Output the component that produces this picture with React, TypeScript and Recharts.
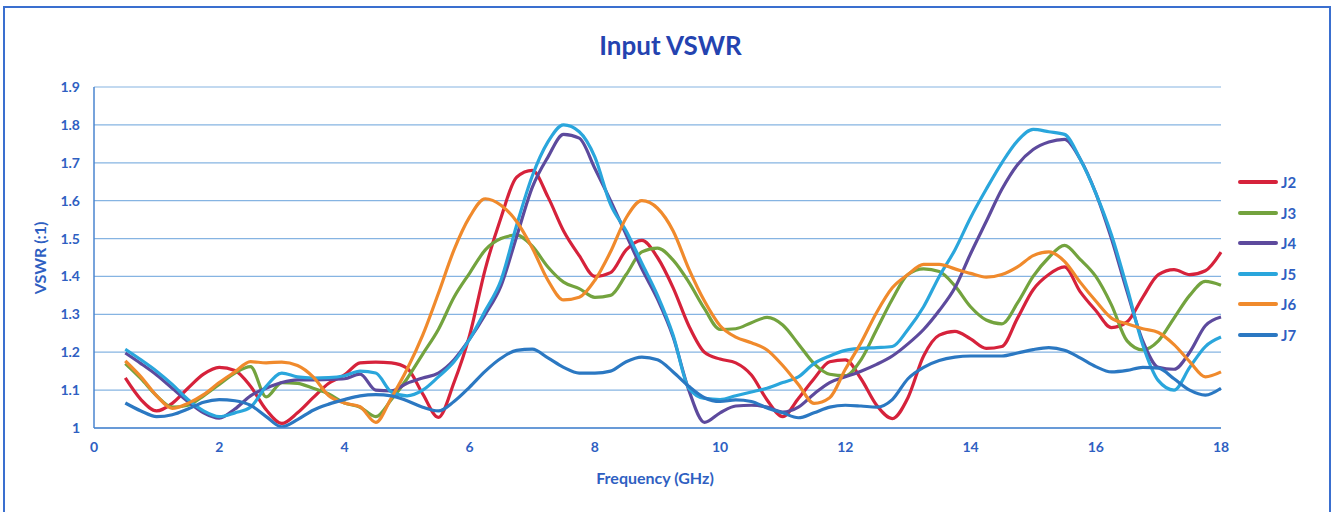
import React from "react";
import { LineChart, Line, XAxis, YAxis, CartesianGrid } from "recharts";

const freq = [0.5,0.75,1,1.25,1.5,1.75,2,2.25,2.5,2.75,3,3.25,3.5,3.75,4,4.25,4.5,4.75,5,5.25,5.5,5.75,6,6.25,6.5,6.75,7,7.25,7.5,7.75,8,8.25,8.5,8.75,9,9.25,9.5,9.75,10,10.25,10.5,10.75,11,11.25,11.5,11.75,12,12.25,12.5,12.75,13,13.25,13.5,13.75,14,14.25,14.5,14.75,15,15.25,15.5,15.75,16,16.25,16.5,16.75,17,17.25,17.5,17.75,18];

const j2 = [1.132,1.075,1.045,1.065,1.105,1.142,1.16,1.152,1.11,1.048,1.012,1.04,1.08,1.118,1.14,1.172,1.174,1.172,1.158,1.09,1.028,1.12,1.245,1.42,1.555,1.662,1.68,1.61,1.52,1.455,1.4,1.41,1.47,1.495,1.45,1.37,1.27,1.2,1.182,1.172,1.14,1.074,1.03,1.078,1.13,1.175,1.18,1.13,1.06,1.025,1.08,1.19,1.245,1.255,1.235,1.21,1.215,1.29,1.365,1.405,1.425,1.36,1.31,1.265,1.28,1.345,1.405,1.418,1.405,1.415,1.464];
const j3 = [1.17,1.13,1.085,1.055,1.06,1.085,1.115,1.145,1.162,1.082,1.12,1.118,1.105,1.09,1.066,1.055,1.03,1.075,1.13,1.195,1.26,1.345,1.409,1.47,1.5,1.509,1.48,1.425,1.385,1.368,1.345,1.35,1.405,1.465,1.475,1.443,1.385,1.315,1.26,1.262,1.278,1.292,1.272,1.222,1.17,1.142,1.138,1.18,1.26,1.34,1.405,1.42,1.413,1.375,1.32,1.285,1.275,1.33,1.4,1.45,1.482,1.445,1.4,1.325,1.23,1.206,1.23,1.29,1.35,1.387,1.377];
const j4 = [1.198,1.17,1.14,1.105,1.07,1.04,1.026,1.05,1.085,1.105,1.12,1.127,1.127,1.128,1.13,1.142,1.1,1.098,1.118,1.132,1.145,1.18,1.235,1.3,1.375,1.505,1.635,1.715,1.775,1.765,1.685,1.6,1.51,1.42,1.34,1.24,1.1,1.015,1.04,1.058,1.06,1.055,1.042,1.055,1.09,1.12,1.135,1.15,1.168,1.19,1.222,1.26,1.31,1.37,1.46,1.545,1.63,1.695,1.735,1.755,1.762,1.71,1.62,1.5,1.36,1.23,1.16,1.155,1.2,1.27,1.293];
const j5 = [1.208,1.18,1.15,1.115,1.075,1.045,1.03,1.04,1.055,1.11,1.145,1.135,1.132,1.133,1.138,1.15,1.145,1.095,1.085,1.1,1.135,1.175,1.235,1.31,1.39,1.535,1.665,1.755,1.8,1.782,1.715,1.59,1.52,1.435,1.35,1.245,1.105,1.078,1.075,1.085,1.095,1.105,1.12,1.135,1.17,1.19,1.205,1.21,1.212,1.215,1.26,1.32,1.4,1.47,1.555,1.63,1.7,1.758,1.788,1.782,1.775,1.71,1.62,1.51,1.37,1.22,1.125,1.1,1.16,1.215,1.24];
const j6 = [1.177,1.135,1.085,1.052,1.065,1.088,1.12,1.148,1.175,1.172,1.174,1.165,1.135,1.085,1.066,1.056,1.015,1.08,1.155,1.245,1.355,1.47,1.557,1.605,1.588,1.545,1.475,1.39,1.338,1.345,1.39,1.465,1.555,1.6,1.58,1.52,1.42,1.335,1.27,1.24,1.225,1.206,1.165,1.115,1.065,1.08,1.155,1.225,1.305,1.37,1.405,1.432,1.432,1.42,1.408,1.398,1.405,1.425,1.455,1.465,1.44,1.385,1.335,1.29,1.275,1.262,1.252,1.22,1.175,1.135,1.148];
const j7 = [1.066,1.045,1.03,1.035,1.05,1.068,1.075,1.072,1.06,1.03,1.003,1.022,1.047,1.063,1.075,1.085,1.088,1.085,1.072,1.055,1.045,1.07,1.108,1.15,1.184,1.205,1.208,1.185,1.16,1.145,1.145,1.15,1.175,1.187,1.18,1.148,1.11,1.08,1.07,1.074,1.07,1.053,1.04,1.027,1.04,1.055,1.06,1.058,1.055,1.075,1.13,1.16,1.178,1.187,1.19,1.19,1.19,1.198,1.207,1.212,1.205,1.185,1.162,1.148,1.152,1.16,1.158,1.13,1.1,1.087,1.105];

const xTicks = [0,2,4,6,8,10,12,14,16,18];
const yTicks = [1,1.1,1.2,1.3,1.4,1.5,1.6,1.7,1.8,1.9];

const seriesNames = ["J2","J3","J4","J5","J6","J7"];
const seriesColors = ["#d6223b","#73a33e","#5d4a9d","#2aa6dc","#f08a2c","#2b78c2"];
const seriesValues = [j2,j3,j4,j5,j6,j7];

const data = freq.map((f, i) => {
  const row: Record<string, number> = { f };
  seriesNames.forEach((n, k) => { row[n] = seriesValues[k][i]; });
  return row;
});

const FONT = "Lato, 'Open Sans', sans-serif";
const TEXT_BLUE = "#2f5fc2";

export default function App() {
  return (
    <div style={{ position: "absolute", left: 0, top: 0, width: 1335, height: 512, background: "#fff", fontFamily: FONT }}>
      <div style={{ position: "absolute", left: 3, top: 6, width: 1328, height: 520, border: "2px solid #3a6fcf", boxSizing: "border-box" }} />
      <div style={{ position: "absolute", left: 0, width: 1335, top: 28, textAlign: "center", paddingLeft: 6, boxSizing: "border-box", fontSize: 26, fontWeight: 700, color: "#2443b0", lineHeight: "34px" }}>
        Input VSWR
      </div>
      <div style={{ position: "absolute", left: 0, top: 0 }}>
        <LineChart width={1335} height={512} data={data} margin={{ top: 87, right: 114, bottom: 54, left: 44 }}>
          <CartesianGrid vertical={false} stroke="#86b4e2" strokeWidth={1.2} />
          <XAxis
            dataKey="f"
            type="number"
            domain={[0, 18]}
            ticks={xTicks}
            height={30}
            tickLine={false}
            tickSize={6}
            tickMargin={8}
            axisLine={{ stroke: "#4a84cf", strokeWidth: 1.5 }}
            tick={{ fill: TEXT_BLUE, fontSize: 14, fontWeight: 700, fontFamily: FONT }}
          />
          <YAxis
            type="number"
            domain={[1, 1.9]}
            ticks={yTicks}
            width={50}
            tickLine={false}
            tickSize={6}
            tickMargin={8}
            axisLine={{ stroke: "#4a84cf", strokeWidth: 1.5 }}
            tick={{ fill: TEXT_BLUE, fontSize: 14, fontWeight: 700, fontFamily: FONT }}
            allowDataOverflow
          />
          {seriesNames.map((n, k) => (
            <Line
              key={n}
              dataKey={n}
              type="monotone"
              stroke={seriesColors[k]}
              strokeWidth={3.2}
              dot={false}
              isAnimationActive={false}
            />
          ))}
        </LineChart>
      </div>
      <div style={{ position: "absolute", left: 0, width: 1310, top: 467, textAlign: "center", fontSize: 16, fontWeight: 700, color: TEXT_BLUE, lineHeight: "22px" }}>
        Frequency (GHz)
      </div>
      <div style={{ position: "absolute", left: 40, top: 258, transform: "translate(-50%, -50%) rotate(-90deg)", fontSize: 16, fontWeight: 700, color: TEXT_BLUE, whiteSpace: "nowrap", lineHeight: "20px" }}>
        VSWR (:1)
      </div>
      {seriesNames.map((n, k) => (
        <div key={n} style={{ position: "absolute", left: 1238, top: 182 + k * 30.6 - 10, height: 20, display: "flex", alignItems: "center" }}>
          <div style={{ width: 40, height: 4, borderRadius: 2, background: seriesColors[k] }} />
          <div style={{ marginLeft: 3, fontSize: 15, fontWeight: 700, color: TEXT_BLUE }}>{n}</div>
        </div>
      ))}
    </div>
  );
}
